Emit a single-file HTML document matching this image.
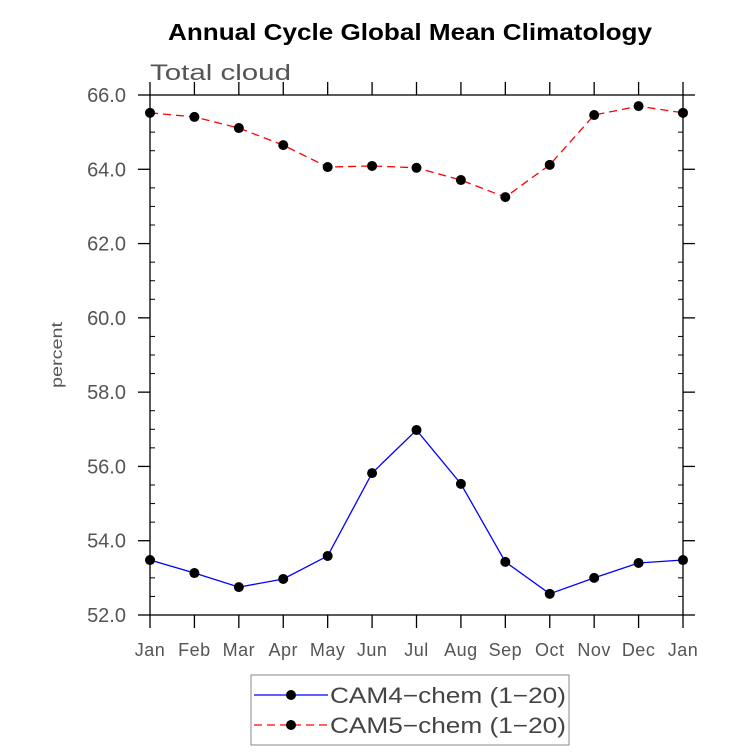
<!DOCTYPE html>
<html><head><meta charset="utf-8"><style>
body{margin:0;background:#fff;}
svg text{font-family:"Liberation Sans",sans-serif;}
</style></head><body>
<svg id="chart" width="733" height="751" xmlns="http://www.w3.org/2000/svg">
<text x="168" y="40" font-size="23" font-weight="bold" fill="#000" textLength="484" lengthAdjust="spacingAndGlyphs">Annual Cycle Global Mean Climatology</text>
<text x="150" y="80" font-size="22" fill="#555" textLength="141" lengthAdjust="spacingAndGlyphs">Total cloud</text>
<text transform="translate(62,355) rotate(-90)" text-anchor="middle" font-size="16" fill="#555" textLength="66" lengthAdjust="spacingAndGlyphs">percent</text>
<g id="axes"></g>
<g id="series"></g>
<g>
<rect x="251" y="675" width="318" height="70" fill="#fff" stroke="#888" stroke-width="1"/>
<line x1="254" y1="695" x2="328" y2="695" stroke="#00f" stroke-width="1.3"/>
<circle cx="291" cy="695" r="5" fill="#000"/>
<text x="330" y="703" font-size="22" fill="#444" textLength="236" lengthAdjust="spacingAndGlyphs">CAM4−chem (1−20)</text>
<line x1="254" y1="725" x2="328" y2="725" stroke="#f00" stroke-width="1.3" stroke-dasharray="8,5"/>
<circle cx="291" cy="725" r="5" fill="#000"/>
<text x="330" y="733" font-size="22" fill="#444" textLength="236" lengthAdjust="spacingAndGlyphs">CAM5−chem (1−20)</text>
</g>
</svg>
<script>
const months = ["Jan","Feb","Mar","Apr","May","Jun","Jul","Aug","Sep","Oct","Nov","Dec","Jan"];
const cam4 = [53.48,53.13,52.75,52.97,53.59,55.82,56.98,55.53,53.43,52.57,53.0,53.40,53.48];
const cam5 = [65.52,65.41,65.11,64.65,64.06,64.09,64.04,63.71,63.25,64.12,65.46,65.70,65.52];
const yTicks = [52,54,56,58,60,62,64,66];
const yTickLabels = ["52.0","54.0","56.0","58.0","60.0","62.0","64.0","66.0"];

const NS="http://www.w3.org/2000/svg";
const L=150,R=683,T=95,B=615,yMin=52,yMax=66;
const xs=i=>L+(R-L)*i/(months.length-1);
const ys=v=>B-(v-yMin)/(yMax-yMin)*(B-T);
function mk(tag,attrs,parent){const e=document.createElementNS(NS,tag);for(const k in attrs)e.setAttribute(k,attrs[k]);parent.appendChild(e);return e;}
const ax=document.getElementById('axes');
const frame=mk('rect',{x:L,y:T,width:R-L,height:B-T,fill:'none',stroke:'#000','stroke-width':1.3},ax);


for(let v=yMin;v<=yMax+1e-9;v+=0.5){
  const y=ys(v);const major=Math.abs(v-Math.round(v/2)*2)<1e-9;
  if(major){mk('line',{x1:L-12,y1:y,x2:L,y2:y,stroke:'#000','stroke-width':1.3},ax);mk('line',{x1:R,y1:y,x2:R+12,y2:y,stroke:'#000','stroke-width':1.3},ax);}
  else{mk('line',{x1:L,y1:y,x2:L+5,y2:y,stroke:'#000','stroke-width':1},ax);mk('line',{x1:R-5,y1:y,x2:R,y2:y,stroke:'#000','stroke-width':1},ax);}
}
yTicks.forEach((v,i)=>{
  const t=mk('text',{x:126,y:ys(v)+7,'text-anchor':'end','font-size':20,fill:'#555'},ax);
  t.textContent=yTickLabels[i];
  
  
});
months.forEach((m,i)=>{
  const x=xs(i);
  mk('line',{x1:x,y1:B,x2:x,y2:B+13,stroke:'#000','stroke-width':1.3},ax);
  mk('line',{x1:x,y1:T-13,x2:x,y2:T,stroke:'#000','stroke-width':1.3},ax);
  const t=mk('text',{x:x,y:656,'text-anchor':'middle','font-size':18,fill:'#555','letter-spacing':'0.5'},ax);
  t.textContent=m;
  
  
});
const sg=document.getElementById('series');
function draw(data,color,dash,name){
  const g=mk('g',{},sg);
  
  
  const pts=data.map((v,i)=>xs(i)+','+ys(v)).join(' ');
  const a={points:pts,fill:'none',stroke:color,'stroke-width':1.3};
  if(dash)a['stroke-dasharray']=dash;
  const pl=mk('polyline',a,g);
  
  
  data.forEach((v,i)=>{
    const c=mk('circle',{cx:xs(i),cy:ys(v),r:5,fill:'#000'},g);
    
    
  });
}
draw(cam5,'#f00','8,5','cam5-series');
draw(cam4,'#00f',null,'cam4-series');
</script>
</body></html>
